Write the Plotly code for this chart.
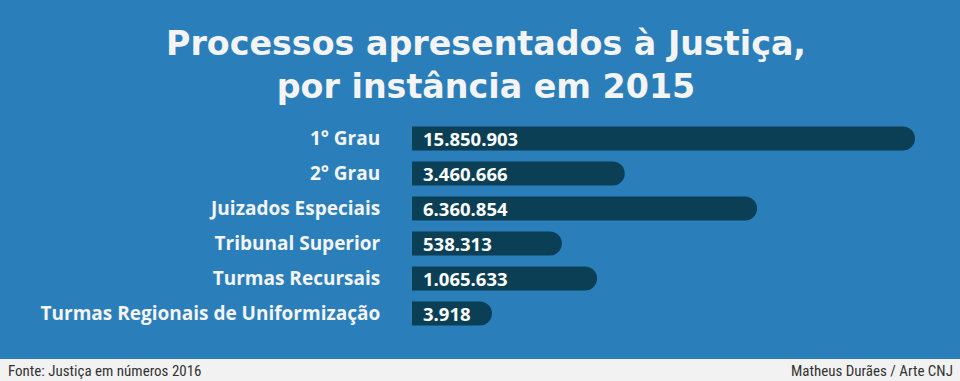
import plotly.graph_objects as go

# ---- data ----
categories = ["1° Grau", "2° Grau", "Juizados Especiais", "Tribunal Superior",
              "Turmas Recursais", "Turmas Regionais de Uniformização"]
processos = [15850903, 3460666, 6360854, 538313, 1065633, 3918]
# bar lengths as drawn in the infographic (illustrative scale, % of longest bar)
bar_lengths = [100, 42.3, 68.6, 29.8, 36.8, 15.9]

title_lines = ["Processos apresentados à Justiça,", "por instância em 2015"]
source_text = "Fonte: Justiça em números 2016"
credit_text = "Matheus Durães / Arte CNJ"

BG = "#2A7FBA"
BAR = "#0B3F55"
TXT = "#F4F4F4"

W, H = 960, 381
ML, MR, MT, MB = 412, 45, 121, 50
PW, PH = W - ML - MR, H - MT - MB


def py(p):
    return (H - MB - p) / PH


def px(p):
    return (p - ML) / PW


def fmt(v):
    return f"{v:,}".replace(",", ".")


fig = go.Figure()
fig.add_trace(go.Bar(
    x=bar_lengths, y=categories, orientation="h",
    marker=dict(color=BAR, line=dict(width=0)),
    hoverinfo="skip",
))

for cat, v in zip(categories, processos):
    fig.add_annotation(x=0, y=cat, xref="x", yref="y", text=fmt(v),
                       showarrow=False, xanchor="left", yanchor="middle",
                       xshift=9, yshift=0,
                       font=dict(family="Open Sans", size=18.5, color="white", weight=700))

# title (two lines)
fig.add_annotation(x=px(486), xref="paper", y=py(65), yref="paper",
                   xanchor="center", yanchor="middle",
                   text="<br>".join(title_lines), showarrow=False, align="center",
                   font=dict(family="DejaVu Sans", size=33.3, color=TXT, weight=700))

# footer strip
fig.add_shape(type="rect", xref="paper", yref="paper",
              x0=px(0), x1=px(W), y0=py(H), y1=py(359),
              fillcolor="#F2F2F2", line=dict(width=0), layer="below")
FOOT = dict(family="Liberation Sans Narrow, Roboto Condensed, Roboto", size=15, color="#333333")
fig.add_annotation(xref="paper", yref="paper", x=px(6), y=py(371),
                   xanchor="left", yanchor="middle", text=source_text, showarrow=False,
                   font=FOOT)
fig.add_annotation(xref="paper", yref="paper", x=px(955), y=py(371),
                   xanchor="right", yanchor="middle", text=credit_text, showarrow=False,
                   font=FOOT)

fig.update_layout(
    width=W, height=H,
    margin=dict(l=ML, r=MR, t=MT, b=MB, pad=0),
    paper_bgcolor=BG, plot_bgcolor=BG,
    showlegend=False,
    bargap=0.31,
    barcornerradius=12,
    xaxis=dict(range=[0, 100], visible=False, fixedrange=True),
    yaxis=dict(autorange="reversed", showgrid=False, zeroline=False, showline=False,
               ticks="outside", ticklen=27, tickcolor="rgba(0,0,0,0)",
               tickfont=dict(family="Open Sans", size=19, color=TXT, weight=700),
               fixedrange=True),
)

fig.write_html("out.html", config={"displayModeBar": False},
               post_script="document.body.style.margin='0';document.body.style.overflow='hidden';")
